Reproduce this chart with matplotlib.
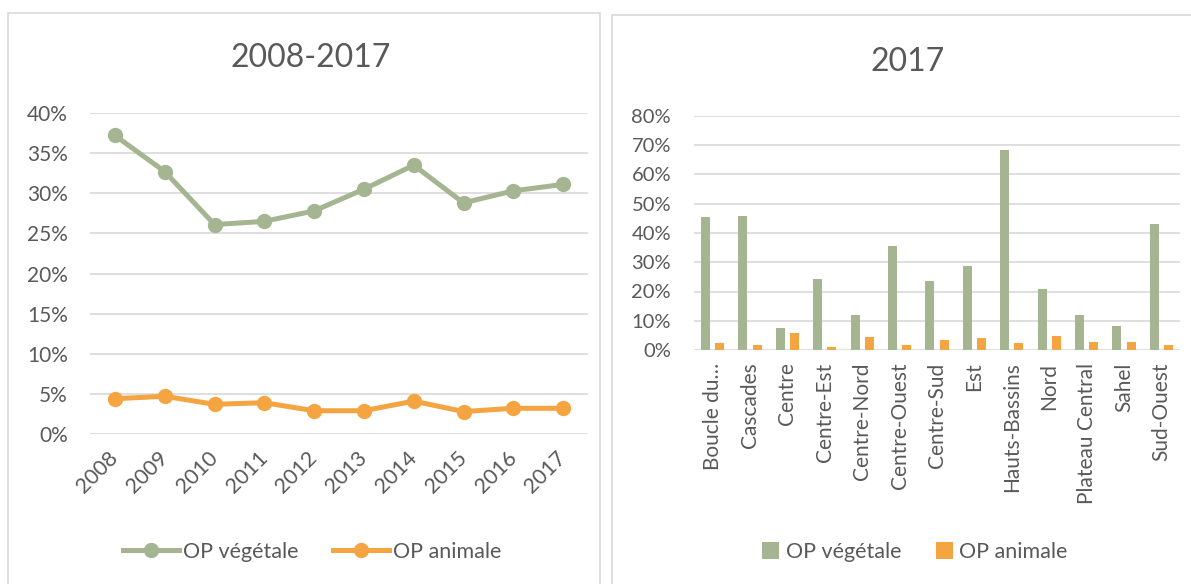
import matplotlib
matplotlib.use("Agg")
import matplotlib.pyplot as plt
from matplotlib.patches import Rectangle
from matplotlib.ticker import PercentFormatter
import numpy as np

plt.rcParams['font.family'] = ['Lato', 'DejaVu Sans']

# données 2008-2017
annees = ['2008', '2009', '2010', '2011', '2012', '2013', '2014', '2015', '2016', '2017']
op_vegetale_evol = [37.2, 32.7, 26.1, 26.5, 27.8, 30.5, 33.5, 28.8, 30.3, 31.1]
op_animale_evol = [4.4, 4.7, 3.7, 3.9, 2.9, 2.9, 4.1, 2.8, 3.2, 3.2]

# données 2017 par région
regions = ['Boucle du…', 'Cascades', 'Centre', 'Centre-Est', 'Centre-Nord', 'Centre-Ouest',
           'Centre-Sud', 'Est', 'Hauts-Bassins', 'Nord', 'Plateau Central', 'Sahel', 'Sud-Ouest']
op_vegetale_2017 = [45.5, 45.8, 7.5, 24.2, 12.0, 35.6, 23.5, 28.8, 68.3, 20.8, 12.1, 8.2, 43.0]
op_animale_2017 = [2.5, 1.7, 5.8, 1.1, 4.6, 1.8, 3.4, 4.1, 2.5, 4.8, 2.85, 2.85, 1.6]

VERT = '#A5B592'
ORANGE = '#F5A442'
TEXTE = '#595959'
GRILLE = '#D9D9D9'

W, H = 1191, 584
fig = plt.figure(figsize=(W / 100, H / 100), dpi=100)

def px_axes(x0, y0, x1, y1):
    return fig.add_axes([x0 / W, 1 - y1 / H, (x1 - x0) / W, (y1 - y0) / H])

# cadres des deux graphiques
fig.add_artist(Rectangle((8 / W, -0.05), 592 / W, 1 - 13 / H + 0.05, transform=fig.transFigure,
                         fill=False, edgecolor=GRILLE, lw=1.2))
fig.add_artist(Rectangle((612 / W, -0.05), 600 / W, 1 - 15 / H + 0.05, transform=fig.transFigure,
                         fill=False, edgecolor=GRILLE, lw=1.2))

def style_axes(ax, top):
    for s in ax.spines.values():
        s.set_visible(False)
    ax.set_ylim(0, top)
    ax.yaxis.set_major_formatter(PercentFormatter(decimals=0))
    ax.grid(axis='y', color=GRILLE, lw=1.2)
    ax.set_axisbelow(True)
    ax.tick_params(length=0, colors=TEXTE)

# --- graphique de gauche : 2008-2017
ax1 = px_axes(90, 113, 588, 434)
x = np.arange(len(annees))
ax1.plot(x, op_vegetale_evol, color=VERT, lw=3.6, marker='o', ms=10, label='OP végétale')
ax1.plot(x, op_animale_evol, color=ORANGE, lw=3.6, marker='o', ms=10, label='OP animale')
style_axes(ax1, 40)
ax1.set_yticks(range(0, 41, 5))
ax1.set_xlim(-0.5, len(annees) - 0.5)
ax1.set_xticks(x)
ax1.set_xticklabels(annees, rotation=45, ha='right', va='center', rotation_mode='anchor')
ax1.tick_params(axis='y', pad=16, labelsize=15)
ax1.tick_params(axis='x', pad=15, labelsize=15.5)
fig.text(311 / W, 1 - 58 / H, '2008-2017', ha='center', va='center', fontsize=23, color=TEXTE)
ax1.legend(loc='center', bbox_to_anchor=(312 / W, 1 - 552 / H), bbox_transform=fig.transFigure,
           ncol=2, frameon=False, fontsize=15.5, labelcolor=TEXTE, handlelength=2.6,
           columnspacing=1.6, handletextpad=0.2)

# --- graphique de droite : 2017
ax2 = px_axes(694, 116, 1180, 350)
xr = np.arange(len(regions))
ax2.bar(xr - 0.19, op_vegetale_2017, width=0.24, color=VERT, label='OP végétale')
ax2.bar(xr + 0.19, op_animale_2017, width=0.24, color=ORANGE, label='OP animale')
style_axes(ax2, 80)
ax2.set_yticks(range(0, 81, 10))
ax2.set_xlim(-0.5, len(regions) - 0.5)
ax2.set_xticks(xr)
ax2.set_xticklabels(regions, rotation=90, ha='center', va='top')
ax2.tick_params(axis='y', pad=16.5, labelsize=14.5)
ax2.tick_params(axis='x', pad=9, labelsize=15)
fig.text(908 / W, 1 - 62 / H, '2017', ha='center', va='center', fontsize=23, color=TEXTE)
ax2.legend(loc='center', bbox_to_anchor=(915 / W, 1 - 552 / H), bbox_transform=fig.transFigure,
           ncol=2, frameon=False, fontsize=15.5, labelcolor=TEXTE, handlelength=0.8,
           handleheight=0.8, columnspacing=1.6, handletextpad=0.3)

fig.savefig('out.png', dpi=100)
